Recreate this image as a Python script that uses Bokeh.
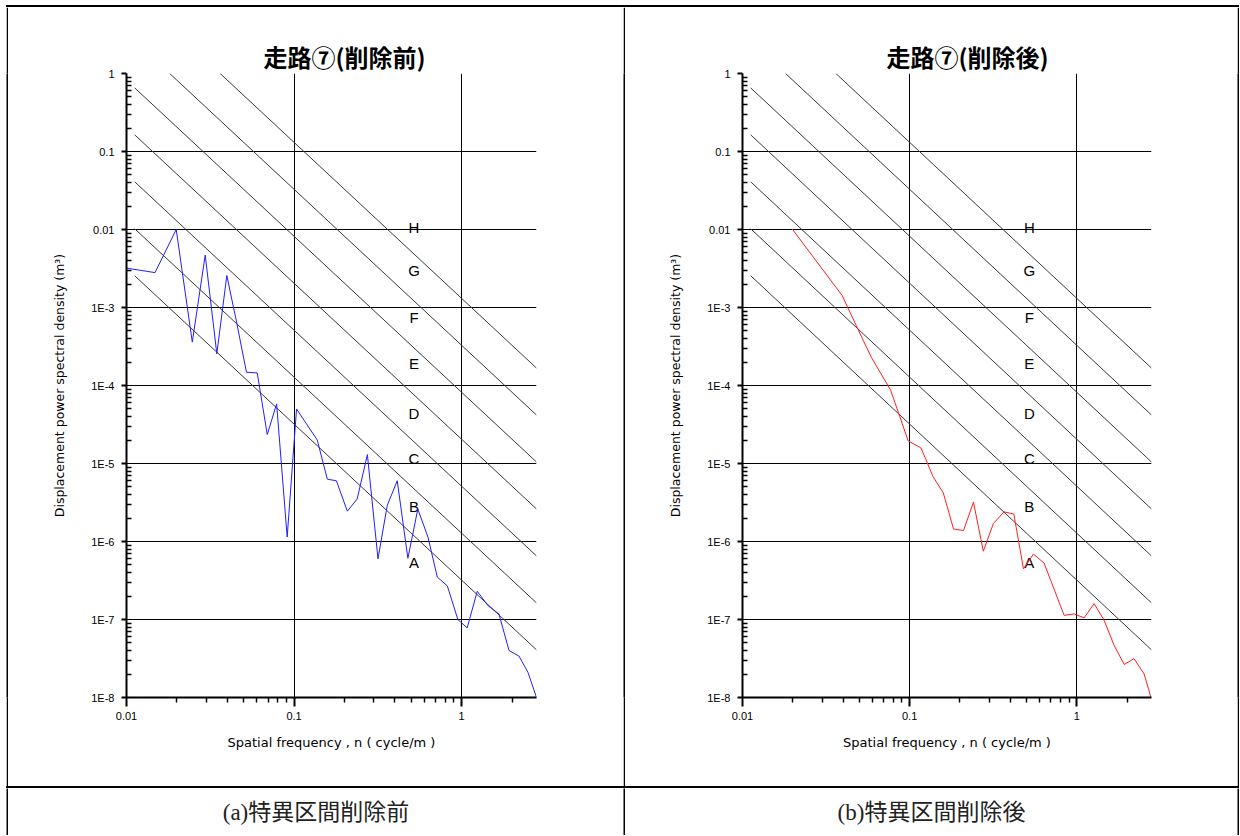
from bokeh.plotting import figure
from bokeh.layouts import column, row
from bokeh.models import Range1d, FixedTicker, CustomJSTickFormatter, Label, Spacer
from bokeh.core.properties import value
from bokeh.embed import file_html
from bokeh.resources import INLINE

# ---------------- data ----------------
n_before = [0.01, 0.0148, 0.0198, 0.0247, 0.0295, 0.0346, 0.0397, 0.0454, 0.052, 0.0603,
            0.0692, 0.0787, 0.091, 0.1035, 0.1376, 0.158, 0.179, 0.208, 0.238, 0.274,
            0.317, 0.36, 0.413, 0.478, 0.548, 0.63, 0.716, 0.822, 0.95, 1.08,
            1.24, 1.44, 1.67, 1.92, 2.2, 2.49, 2.8]
psd_before = [3.2e-3, 2.8e-3, 1.0e-2, 3.6e-4, 4.7e-3, 2.55e-4, 2.57e-3, 6.5e-4, 1.48e-4, 1.45e-4,
              2.35e-5, 5.8e-5, 1.14e-6, 5.0e-5, 2.0e-5, 6.3e-6, 6.0e-6, 2.45e-6, 3.5e-6, 1.3e-5,
              6.0e-7, 2.9e-6, 6.0e-6, 6.1e-7, 2.6e-6, 1.14e-6, 3.5e-7, 2.7e-7, 1.0e-7, 7.8e-8,
              2.3e-7, 1.5e-7, 1.18e-7, 4.0e-8, 3.4e-8, 2.1e-8, 1.0e-8]

n_after = [0.0198, 0.0395, 0.049, 0.059, 0.077, 0.098, 0.117, 0.138, 0.159, 0.183,
           0.21, 0.241, 0.276, 0.317, 0.367, 0.42, 0.48, 0.55, 0.637, 0.731,
           0.84, 0.964, 1.107, 1.27, 1.45, 1.67, 1.92, 2.2, 2.53, 2.78]
psd_after = [1.02e-2, 1.42e-3, 5.3e-4, 2.3e-4, 8.7e-5, 1.95e-5, 1.58e-5, 6.8e-6, 4.2e-6, 1.45e-6,
             1.38e-6, 3.2e-6, 7.5e-7, 1.7e-6, 2.4e-6, 2.25e-6, 4.45e-7, 6.9e-7, 5.3e-7, 2.46e-7,
             1.13e-7, 1.18e-7, 1.05e-7, 1.6e-7, 1.0e-7, 4.7e-8, 2.65e-8, 3.15e-8, 2.0e-8, 1.0e-8]

x_tick_vals = [0.01, 0.1, 1]
x_tick_labels = ["0.01", "0.1", "1"]
y_tick_vals = [1e-8, 1e-7, 1e-6, 1e-5, 1e-4, 1e-3, 1e-2, 1e-1, 1.0]
y_tick_labels = ["1E-8", "1E-7", "1E-6", "1E-5", "1E-4", "1E-3", "0.01", "0.1", "1"]
grid_x = [0.1, 1]
grid_y = [1e-7, 1e-6, 1e-5, 1e-4, 1e-3, 1e-2, 1e-1]

# road roughness classes (ISO 8608): class boundaries Gd(n0) at n0 = 0.1 cycle/m
class_letters = ["A", "B", "C", "D", "E", "F", "G", "H"]
class_label_n = 0.52
class_label_psd = [5.38e-7, 2.84e-6, 1.15e-5, 4.44e-5, 1.91e-4, 7.44e-4, 2.98e-3, 1.06e-2]
class_bounds = [32e-6, 128e-6, 512e-6, 2048e-6, 8192e-6, 32768e-6, 131072e-6]
N0 = 0.1
line_n_min = 0.0112

x_min, x_max = 0.01, 2.8
y_min, y_max = 1e-8, 1.0

titles = ["走路⑦(削除前)", "走路⑦(削除後)"]
captions = ["(a)特異区間削除前", "(b)特異区間削除後"]
x_label = "Spatial frequency , n ( cycle/m )"
y_label = "Displacement power spectral density (m³)"

FONT = "Liberation Sans"
LABEL_FONT = "DejaVu Sans"
CJK = "Noto Sans CJK JP"
CAP_FONT = "Liberation Serif, Noto Sans CJK JP"

x_minor = [m * 10.0 ** e for e in (-2, -1, 0) for m in range(2, 10) if m * 10.0 ** e <= x_max]
y_minor = [m * 10.0 ** e for e in range(-8, 0) for m in range(2, 10)]

PANEL_H = 779


def fmt(vals, labs):
    return CustomJSTickFormatter(args=dict(vals=vals, labs=labs), code="""
        for (let i = 0; i < vals.length; i++) {
            if (Math.abs(Math.log10(vals[i]) - Math.log10(tick)) < 1e-6) return labs[i];
        }
        return "";
    """)


def iso_lines():
    xs, ys = [], []
    for g in class_bounds:
        n_start = max(line_n_min, N0 * (g / y_max) ** 0.5)
        xs.append([n_start, x_max])
        ys.append([g * (n_start / N0) ** -2, g * (x_max / N0) ** -2])
    return xs, ys


def make_panel(title, n, psd, color, width, left, right, title_offset):
    p = figure(width=width, height=PANEL_H, x_axis_type="log", y_axis_type="log",
               x_range=Range1d(x_min, x_max), y_range=Range1d(y_min, y_max),
               output_backend="svg", toolbar_location=None, title=title,
               min_border_left=left, min_border_right=right,
               min_border_top=66, min_border_bottom=89)
    p.outline_line_color = None
    p.background_fill_color = "white"
    p.border_fill_color = "white"

    p.title.text_font = CJK
    p.title.text_font_size = "24px"
    p.title.text_font_style = "bold"
    p.title.align = "left"
    p.title.offset = title_offset
    p.title.standoff = 0
    p.title.text_color = "black"

    xa = p.xaxis[0]
    ya = p.yaxis[0]
    xa.ticker = FixedTicker(ticks=x_tick_vals, minor_ticks=x_minor)
    ya.ticker = FixedTicker(ticks=y_tick_vals, minor_ticks=y_minor)
    xa.formatter = fmt(x_tick_vals, x_tick_labels)
    ya.formatter = fmt(y_tick_vals, y_tick_labels)
    xa.axis_label = x_label
    ya.axis_label = y_label
    for ax in (xa, ya):
        ax.axis_line_width = 2
        ax.axis_line_color = "black"
        ax.major_tick_line_width = 2
        ax.minor_tick_line_width = 1.5
        ax.major_tick_line_color = "black"
        ax.minor_tick_line_color = "black"
        ax.major_label_text_font = FONT
        ax.major_label_text_font_size = "11px"
        ax.major_label_text_color = "black"
        ax.axis_label_text_font = LABEL_FONT
        ax.axis_label_text_font_style = "normal"
        ax.axis_label_text_color = "black"
    xa.axis_label_text_font_size = "13px"
    ya.axis_label_text_font_size = "12.5px"
    xa.major_tick_out = 9
    xa.major_tick_in = 0
    xa.minor_tick_out = 5
    xa.minor_tick_in = 0
    xa.major_label_standoff = 5
    xa.axis_label_standoff = 12
    ya.major_tick_out = 5
    ya.major_tick_in = 0
    ya.minor_tick_out = 0
    ya.minor_tick_in = 5
    ya.major_label_standoff = 7
    ya.axis_label_standoff = 21

    p.xgrid.ticker = FixedTicker(ticks=grid_x)
    p.ygrid.ticker = FixedTicker(ticks=grid_y)
    for g in (p.xgrid[0], p.ygrid[0]):
        g.grid_line_color = "black"
        g.grid_line_width = 1
        g.grid_line_alpha = 1.0

    xs, ys = iso_lines()
    p.multi_line(xs, ys, line_color="#3a3a3a", line_width=1)

    p.text(x=[class_label_n] * len(class_letters), y=class_label_psd, text=class_letters,
           text_align="center", text_baseline="middle", text_color="black",
           text_font=value(FONT), text_font_size="15px")

    p.line(n, psd, line_color=color, line_width=1)
    return p


def vbar(h):
    b = figure(width=2, height=h, output_backend="svg", toolbar_location=None,
               x_axis_location=None, y_axis_location=None, min_border=0, title=None,
               x_range=Range1d(0, 1), y_range=Range1d(0, 1))
    b.background_fill_color = "black"
    b.border_fill_color = "black"
    b.outline_line_color = None
    b.grid.visible = False
    return b


def hbar(w):
    return Spacer(width=w, height=2, styles={"background-color": "black"})


CAP_H = 47


def caption(text, w):
    c = figure(width=w, height=CAP_H, output_backend="svg", toolbar_location=None,
               x_axis_location=None, y_axis_location=None, min_border=0, title=None,
               x_range=Range1d(0, 1), y_range=Range1d(0, 1))
    c.background_fill_color = "white"
    c.border_fill_color = "white"
    c.outline_line_color = None
    c.grid.visible = False
    c.add_layout(Label(x=0.5, y=0.49, text=text, text_align="center", text_baseline="middle",
                       text_font=CAP_FONT, text_font_size="23px", text_color="#222222"))
    return c


left = make_panel(titles[0], n_before, psd_before, "#1f1fff", 615, 118, 87, 137)
right = make_panel(titles[1], n_after, psd_after, "#ff1f1f", 612, 117, 86, 144)

grid_block = column(
    hbar(1233),
    row(vbar(PANEL_H), left, vbar(PANEL_H), right, vbar(PANEL_H)),
    hbar(1233),
    row(vbar(CAP_H), caption(captions[0], 615), vbar(CAP_H), caption(captions[1], 612),
        vbar(CAP_H)),
)

layout = column(Spacer(width=1239, height=5), row(Spacer(width=6, height=10), grid_block))

open("out.html", "w").write(file_html(layout, INLINE))
